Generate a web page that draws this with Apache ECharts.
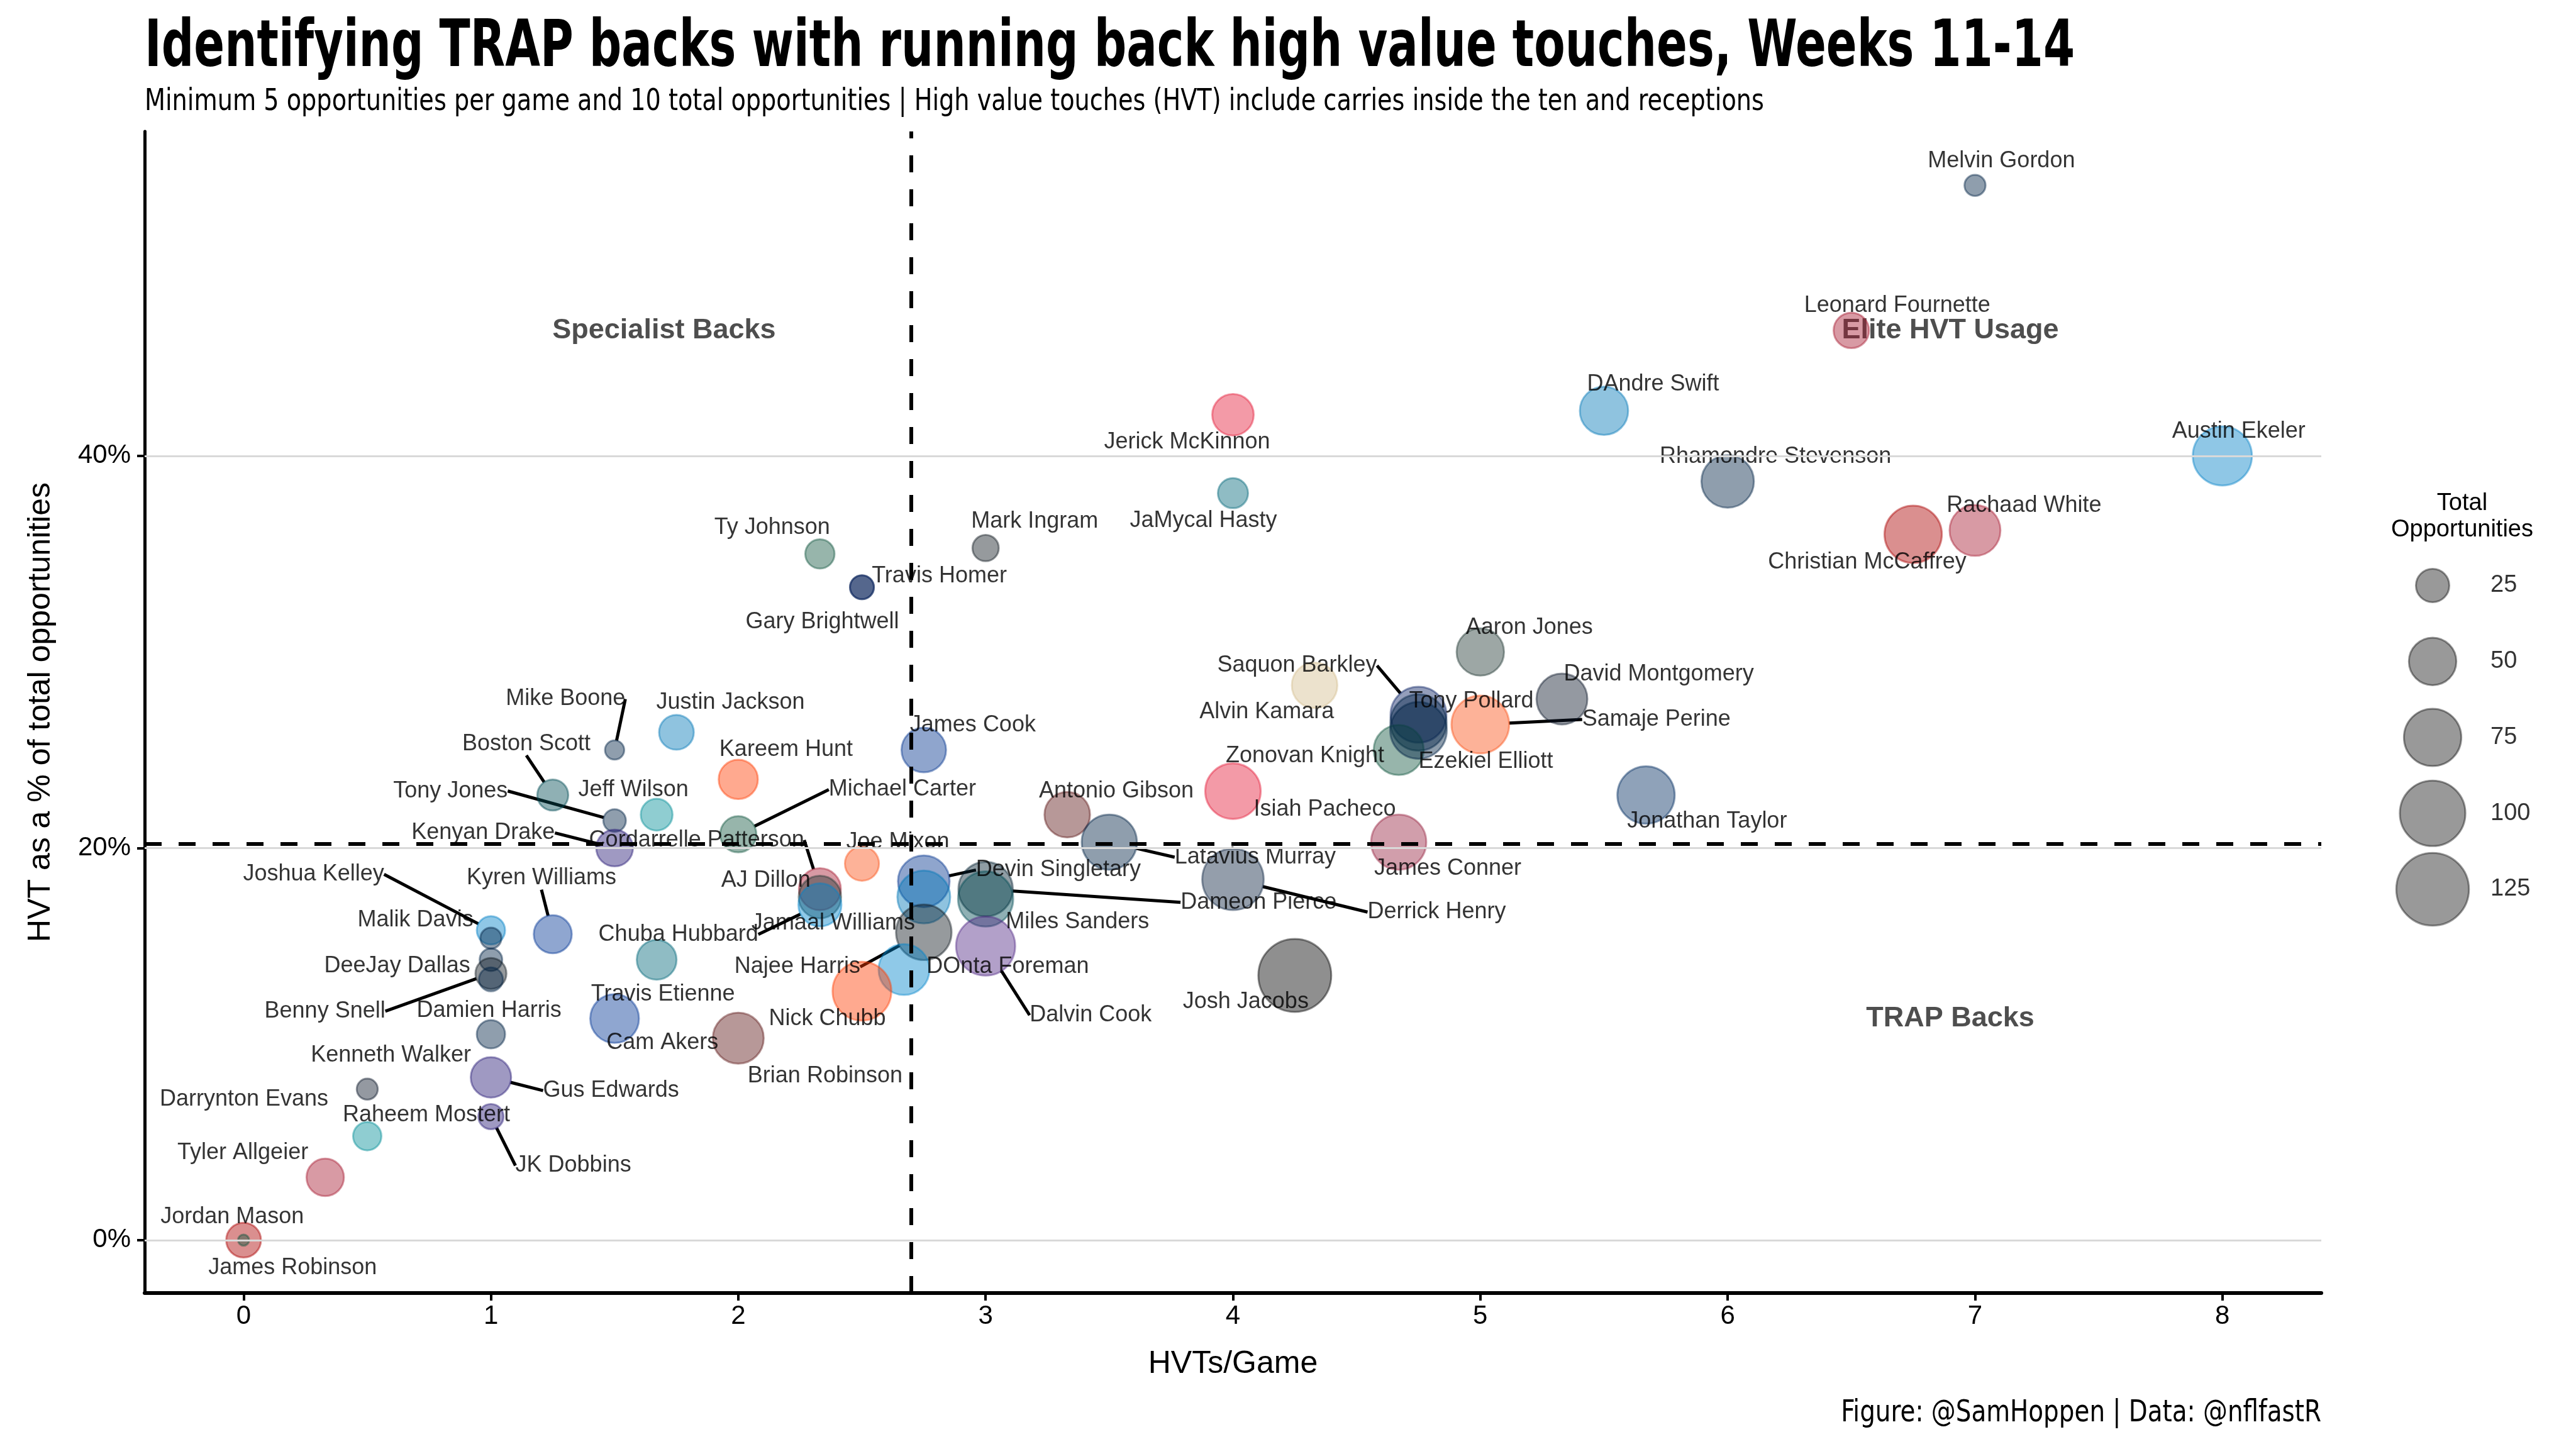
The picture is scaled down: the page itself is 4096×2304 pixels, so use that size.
<!DOCTYPE html>
<html><head><meta charset="utf-8">
<script src="https://cdn.jsdelivr.net/npm/echarts@6/dist/echarts.min.js"></script>
<style>html,body{margin:0;padding:0;background:#fff}#c{width:4096px;height:2304px}</style>
</head><body><div id="c"></div>
<script>
// ---------------- DATA ----------------
const players = ["Melvin Gordon","Leonard Fournette","DAndre Swift","Austin Ekeler","Rhamondre Stevenson","Rachaad White","Christian McCaffrey","Jerick McKinnon","JaMycal Hasty","Mark Ingram","Ty Johnson","Travis Homer","Gary Brightwell","Aaron Jones","Saquon Barkley","Tony Pollard","David Montgomery","Alvin Kamara","Samaje Perine","Zonovan Knight","Ezekiel Elliott","Isiah Pacheco","Antonio Gibson","Jonathan Taylor","Latavius Murray","James Conner","Devin Singletary","Dameon Pierce","Derrick Henry","Miles Sanders","Jamaal Williams","Najee Harris","DOnta Foreman","Dalvin Cook","Josh Jacobs","Nick Chubb","Brian Robinson","Mike Boone","Justin Jackson","James Cook","Boston Scott","Kareem Hunt","Tony Jones","Jeff Wilson","Michael Carter","Kenyan Drake","Cordarrelle Patterson","Joe Mixon","AJ Dillon","Joshua Kelley","Kyren Williams","Malik Davis","Chuba Hubbard","DeeJay Dallas","Benny Snell","Damien Harris","Travis Etienne","Cam Akers","Kenneth Walker","Gus Edwards","Darrynton Evans","Raheem Mostert","JK Dobbins","Tyler Allgeier","Jordan Mason","James Robinson"];
const teams = ["DEN","TB","DET","LAC","NE","TB","SF","KC","JAX","NO","NYJ","SEA","NYG","GB","NYG","DAL","CHI","NO","CIN","NYJ","DAL","KC","WAS","IND","DEN","ARI","BUF","HOU","TEN","PHI","DET","PIT","CAR","MIN","LV","CLE","WAS","DEN","DET","BUF","PHI","CLE","SEA","MIA","NYJ","BAL","ATL","CIN","GB","LAC","LA","DAL","CAR","SEA","PIT","NE","JAX","LA","SEA","BAL","CHI","MIA","BAL","ATL","SF","NYJ"];
// HVTs per game (x)
const hvtPerGame = [7.0,6.5,5.5,8.0,6.0,7.0,6.75,4.0,4.0,3.0,2.33,2.5,2.5,5.0,4.75,4.75,5.33,4.33,5.0,4.67,4.75,4.0,3.33,5.67,3.5,4.67,2.75,3.0,4.0,3.0,2.75,2.75,2.67,3.0,4.25,2.5,2.0,1.5,1.75,2.75,1.25,2.0,1.5,1.67,2.0,1.5,2.33,2.5,2.33,1.0,1.25,1.0,2.33,1.0,1.0,1.0,1.67,1.5,1.0,1.0,0.5,0.5,1.0,0.33,0.0,0.0];
// HVT as a % of total opportunities (y)
const hvtShare = [53.8,46.4,42.3,40.0,38.7,36.2,36.0,42.1,38.1,35.3,35.0,33.3,33.3,30.0,26.8,26.4,27.6,28.3,26.3,25.0,26.0,22.9,21.7,22.7,20.3,20.3,18.3,17.9,18.4,17.4,17.5,15.7,13.8,15.0,13.5,12.7,10.3,25.0,25.9,25.0,22.7,23.5,21.4,21.7,20.7,20.0,17.9,19.2,17.5,15.8,15.6,15.4,17.1,14.3,13.6,13.3,14.3,11.3,10.5,8.3,7.7,5.3,6.3,3.2,0.0,0.0];
// Total opportunities (bubble size)
const totalOpps = [13,28,52,80,62,58,75,38,21,17,20,15,15,50,71,72,58,46,76,56,73,70,46,75,69,69,60,67,87,69,63,70,58,80,126,79,58,12,27,44,22,34,14,23,29,30,39,26,40,19,32,13,41,14,22,15,35,53,19,36,13,19,16,31,27,10];
const legendSizes = [25,50,75,100,125];
const xTicks = [0,1,2,3,4,5,6,7,8];
const yTicks = [0,20,40];
const hvtPerGameRef = 2.70;   // vertical dashed reference
const hvtShareRef = 20.2;     // horizontal dashed reference
const quadrantNames = ["Specialist Backs","Elite HVT Usage","TRAP Backs"];
const quadrantX = [1.70,6.9,6.9];
const quadrantY = [46.4,46.4,11.3];
const titleText = "Identifying TRAP backs with running back high value touches, Weeks 11-14";
const subtitleText = "Minimum 5 opportunities per game and 10 total opportunities | High value touches (HVT) include carries inside the ten and receptions";
const captionText = "Figure: @SamHoppen | Data: @nflfastR";

// ---------------- STYLE ----------------
const teamColors = {ARI:"#97233F",ATL:"#A71930",BAL:"#241773",BUF:"#00338D",CAR:"#0085CA",CHI:"#0B162A",CIN:"#FB4F14",CLE:"#FF3C00",DAL:"#002244",DEN:"#002244",DET:"#0076B6",GB:"#203731",HOU:"#03202F",IND:"#002C5F",JAX:"#006778",KC:"#E31837",LA:"#003594",LAC:"#0080C6",LV:"#000000",MIA:"#008E97",MIN:"#4F2683",NE:"#002244",NO:"#D3BC8D",NYG:"#0B2265",NYJ:"#125740",PHI:"#004C54",PIT:"#101820",SEA:"#002244",SF:"#AA0000",TB:"#A71930",TEN:"#0C2340",WAS:"#5A1414"};
const colorOverride = {"Mark Ingram":"#101820"};
const labelNudge = {"Melvin Gordon":[42,-39],"Leonard Fournette":[73,-39],"DAndre Swift":[78,-42],"Austin Ekeler":[26,-39],"Rhamondre Stevenson":[76,-39],"Rachaad White":[78,-39],"Christian McCaffrey":[-73,44],"Jerick McKinnon":[-73,44],"JaMycal Hasty":[-47,44],"Mark Ingram":[78,-42],"Ty Johnson":[-76,-42],"Travis Homer":[123,-18],"Gary Brightwell":[-63,55],"Aaron Jones":[78,-39],"Saquon Barkley":[-193,-78],"Tony Pollard":[84,-34],"David Montgomery":[154,-39],"Alvin Kamara":[-76,42],"Samaje Perine":[280,-8],"Zonovan Knight":[-149,10],"Ezekiel Elliott":[107,50],"Isiah Pacheco":[146,29],"Antonio Gibson":[78,-37],"Jonathan Taylor":[97,42],"Latavius Murray":[232,24],"James Conner":[78,42],"Devin Singletary":[214,-18],"Dameon Pierce":[434,21],"Derrick Henry":[324,52],"Miles Sanders":[146,37],"Jamaal Williams":[-144,42],"Najee Harris":[-201,55],"DOnta Foreman":[165,-5],"Dalvin Cook":[167,110],"Josh Jacobs":[-78,42],"Nick Chubb":[-55,44],"Brian Robinson":[138,60],"Mike Boone":[-78,-81],"Justin Jackson":[86,-47],"James Cook":[78,-39],"Boston Scott":[-42,-81],"Kareem Hunt":[76,-47],"Tony Jones":[-261,-47],"Jeff Wilson":[-37,-39],"Michael Carter":[261,-71],"Kenyan Drake":[-209,-24],"Cordarrelle Patterson":[-196,-78],"Joe Mixon":[57,-34],"AJ Dillon":[-86,-26],"Joshua Kelley":[-282,-89],"Kyren Williams":[-18,-89],"Malik Davis":[-120,-29],"Chuba Hubbard":[-225,47],"DeeJay Dallas":[-149,10],"Benny Snell":[-264,60],"Damien Harris":[-3,50],"Travis Etienne":[10,55],"Cam Akers":[76,39],"Kenneth Walker":[-159,34],"Gus Edwards":[191,21],"Darrynton Evans":[-196,16],"Raheem Mostert":[94,-34],"JK Dobbins":[131,78],"Tyler Allgeier":[-131,-39],"Jordan Mason":[-18,-37],"James Robinson":[78,44]};
const withLeader = new Set(["Saquon Barkley","Samaje Perine","Latavius Murray","Devin Singletary","Dameon Pierce","Derrick Henry","Najee Harris","Dalvin Cook","Mike Boone","Boston Scott","Tony Jones","Michael Carter","Kenyan Drake","Cordarrelle Patterson","Joshua Kelley","Kyren Williams","Chuba Hubbard","Benny Snell","Gus Edwards","JK Dobbins"]);
const FONT = "'Liberation Sans', Arial, sans-serif";
const NARROW = "'Liberation Sans Narrow', 'DejaVu Sans Condensed', 'DejaVu Sans', sans-serif";
const ALPHA = 0.55;
function rgba(hex, a){ const n = parseInt(hex.slice(1),16); return 'rgba('+((n>>16)&255)+','+((n>>8)&255)+','+(n&255)+','+a+')'; }
function bubbleSize(v){ return 17.7 + 9.12*Math.sqrt(Math.max(v-10,0)); }

const points = players.map((n,i)=>{
  const c = rgba(colorOverride[n] || teamColors[teams[i]], ALPHA);
  return {name:n, value:[hvtPerGame[i], hvtShare[i], totalOpps[i]],
    itemStyle:{color:c, borderColor:c},
    labelLine:{show: withLeader.has(n)}};
});

const chart = echarts.init(document.getElementById('c'), null, {renderer:'canvas'});
chart.setOption({
  backgroundColor:'#fff',
  animation:false,
  title:[
    {text:'Total\nOpportunities', left:3910, top:775, textAlign:'center',
     textStyle:{fontFamily:FONT, fontWeight:'normal', fontSize:38, lineHeight:42, color:'#000'}}
  ],
  graphic:[
    {type:'text', x:230, y:78, scaleX:0.77, silent:true,
     style:{text:titleText, fontFamily:NARROW, fontWeight:'bold', fontSize:104, fill:'#000', align:'left', verticalAlign:'middle'}},
    {type:'text', x:230, y:163, scaleX:0.885, silent:true,
     style:{text:subtitleText, fontFamily:NARROW, fontSize:48, fill:'#000', align:'left', verticalAlign:'middle'}},
    {type:'text', x:3691, y:2248, scaleX:0.90, silent:true,
     style:{text:captionText, fontFamily:NARROW, fontSize:48, fill:'#000', align:'right', verticalAlign:'middle'}}
  ],
  grid:[
    {left:230, top:209, width:3461, height:1847},
    {left:3818, top:931, width:100, height:483}
  ],
  xAxis:[
    {type:'value', gridIndex:0, min:-0.4, max:8.4,
     name:'HVTs/Game', nameLocation:'middle', nameGap:88,
     nameTextStyle:{fontFamily:FONT, fontSize:50, color:'#000'},
     axisLine:{show:true, onZero:false, lineStyle:{color:'#000', width:6}},
     axisTick:{show:true, length:12, customValues:xTicks, lineStyle:{color:'#000', width:4}},
     axisLabel:{customValues:xTicks, fontFamily:FONT, fontSize:42, color:'#000', margin:16},
     splitLine:{show:false}},
    {type:'value', gridIndex:1, min:0, max:1, show:false}
  ],
  yAxis:[
    {type:'value', gridIndex:0, min:-2.7, max:56.55,
     name:'HVT as a % of total opportunities', nameLocation:'middle', nameGap:140,
     nameTextStyle:{fontFamily:FONT, fontSize:50, color:'#000'},
     axisLine:{show:true, onZero:false, lineStyle:{color:'#000', width:5}},
     axisTick:{show:true, length:12, customValues:yTicks, lineStyle:{color:'#000', width:4}},
     axisLabel:{customValues:yTicks, formatter:'{value}%', fontFamily:FONT, fontSize:42, color:'#000', margin:22},
     splitLine:{show:false}},
    {type:'value', gridIndex:1, min:legendSizes[0], max:legendSizes[legendSizes.length-1], inverse:true, show:false}
  ],
  series:[
    {type:'line', xAxisIndex:0, yAxisIndex:0, data:[], z:1, silent:true,
     markLine:{silent:true, symbol:'none', label:{show:false},
       lineStyle:{color:'#d9d9d9', width:3, type:'solid'},
       data: yTicks.map(v=>({yAxis:v}))}},
    {type:'line', xAxisIndex:0, yAxisIndex:0, data:[], z:2, silent:true,
     markLine:{silent:true, symbol:'none', label:{show:false},
       lineStyle:{color:'#000', width:6, type:[27,27]},
       data:[{xAxis:hvtPerGameRef},{yAxis:hvtShareRef}]}},
    {type:'scatter', xAxisIndex:0, yAxisIndex:0, z:3, silent:true,
     symbolSize:0,
     data: quadrantNames.map((n,i)=>({name:n, value:[quadrantX[i], quadrantY[i]]})),
     label:{show:true, position:'inside', formatter:'{b}', fontFamily:FONT, fontWeight:'bold', fontSize:45, color:'#222222'}},
    {type:'scatter', xAxisIndex:0, yAxisIndex:0, z:4,
     data: points,
     symbolSize: (val)=>bubbleSize(val[2]),
     itemStyle:{borderWidth:3},
     label:{show:true, position:'inside', formatter:'{b}', fontFamily:FONT, fontSize:36, color:'#000'},
     labelLine:{show:false, length2:0, smooth:false, lineStyle:{color:'#000', width:5, opacity:1}},
     labelLayout:(p)=>{ const d = labelNudge[players[p.dataIndex]] || [0,0]; return {dx:d[0], dy:d[1]}; }
    },
    {type:'scatter', xAxisIndex:1, yAxisIndex:1, z:4, silent:true,
     data: legendSizes.map(v=>({name:String(v), value:[0.5, v, v]})),
     symbolSize:(val)=>bubbleSize(val[2]),
     itemStyle:{color:'rgba(0,0,0,0.5)', borderColor:'rgba(0,0,0,0.5)', borderWidth:3},
     label:{show:true, position:'inside', align:'left', offset:[92,0], formatter:'{b}', fontFamily:FONT, fontSize:38, color:'#000'}}
  ]
});
</script></body></html>
